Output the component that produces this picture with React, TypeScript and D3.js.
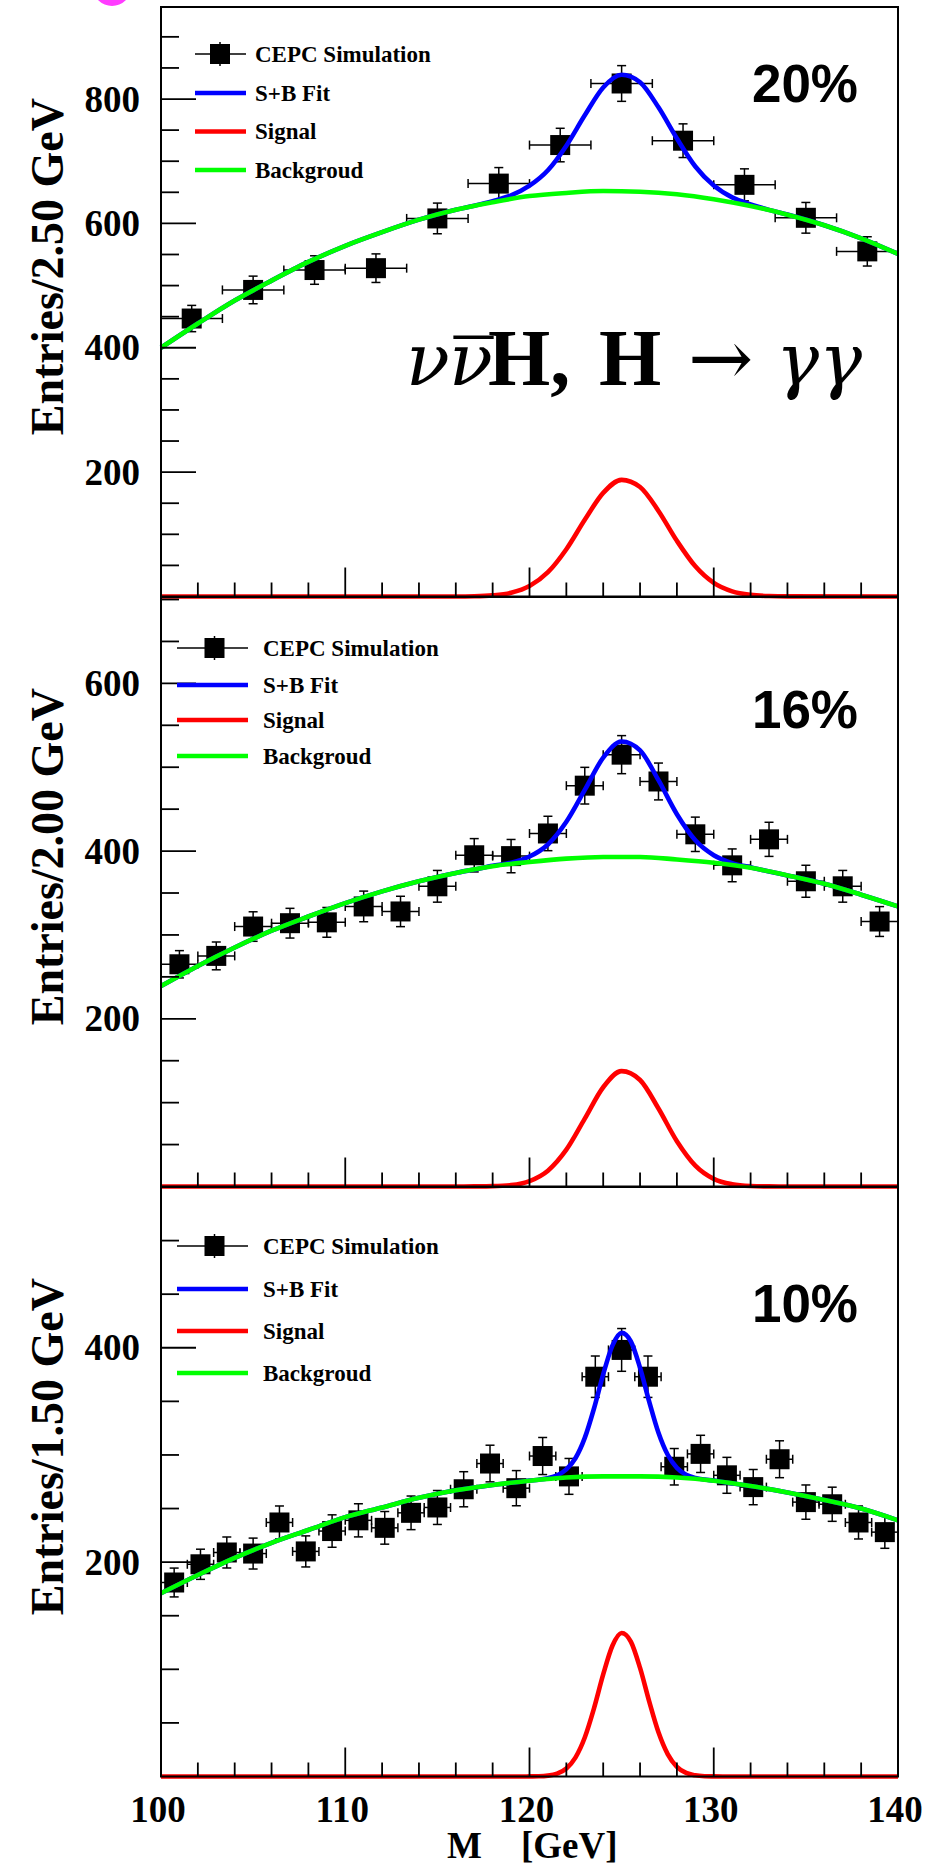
import React from "react";
import * as d3 from "d3";

const WIDTH = 952;
const HEIGHT = 1868;

// ---- shared mass axis ----
const massRange: [number, number] = [100, 140];
const massMajorTicks = [100, 110, 120, 130, 140];
const massMinorTicks = [102, 104, 106, 108, 112, 114, 116, 118, 122, 124, 126, 128, 132, 134, 136, 138];

// grid on which the background fits are tabulated
const bgMass = [100, 102, 104, 106, 108, 110, 112, 114, 116, 118, 120, 122, 124, 126, 128, 130, 132, 134, 136, 138, 140];

// ---- 20% sample ----
const counts20 = [447, 493, 525, 528, 608, 664, 726, 825, 733, 662, 609, 555];
const background20 = [400, 439, 476, 508, 538, 564, 586, 606, 622, 634, 644, 649, 652, 651, 647, 639, 628, 614, 597, 576, 551];
const signalMass20 = [116, 117, 118, 119, 120, 121, 122, 123, 124, 125, 126, 127, 128, 129, 130, 131, 132, 133, 134];
const signal20 = [0.1, 0.4, 1.8, 6.0, 16.7, 39.0, 76.0, 123.3, 166.6, 187.6, 176.0, 137.6, 89.5, 48.5, 21.9, 8.3, 2.6, 0.7, 0.2];
const yTicks20 = [200, 400, 600, 800];

// ---- 16% sample ----
const counts16 = [265, 275, 310, 314, 315, 334, 328, 358, 395, 394, 421, 478, 515, 483, 420, 383, 414, 364, 358, 316];
const background16 = [239, 263, 285, 305, 322, 338, 352, 364, 374, 382, 387, 391, 393, 393, 390, 386, 380, 371, 361, 348, 334];
const signalMass16 = [116, 117, 118, 119, 120, 121, 122, 123, 124, 125, 126, 127, 128, 129, 130, 131, 132, 133, 134];
const signal16 = [0, 0.1, 0.4, 1.7, 6.5, 18.9, 43.9, 80.9, 118.4, 137.6, 127.0, 93.0, 54.0, 24.9, 9.1, 2.7, 0.6, 0.1, 0];
const yTicks16 = [200, 400, 600];

// ---- 10% sample ----
const counts10 = [181, 198, 209, 208, 237, 210, 229, 239, 232, 246, 251, 268, 292, 269, 299, 280, 373, 398, 373, 289, 301, 281, 270, 296, 256, 254, 237, 228];
const background10 = [171, 188, 204, 218, 230, 242, 251, 260, 267, 272, 276, 279, 280, 280, 279, 276, 271, 265, 258, 250, 239];
const signalMass10 = [119, 119.5, 120, 120.5, 121, 121.5, 122, 122.5, 123, 123.5, 124, 124.5, 125, 125.5, 126, 126.5, 127, 127.5, 128, 128.5, 129, 129.5, 130, 130.5, 131];
const signal10 = [0, 0, 0.1, 0.2, 0.8, 2.7, 7.5, 17.9, 36.4, 63.6, 95.2, 122.0, 133.9, 125.9, 101.3, 69.8, 41.2, 20.9, 9.0, 3.3, 1.1, 0.3, 0.1, 0, 0];
const yTicks10 = [200, 400];

const legendLabels = ["CEPC Simulation", "S+B Fit", "Signal", "Backgroud"];
const curveColors = { sb: "#0000ff", signal: "#ff0000", background: "#00ff00" };

// ---- layout ----
const LEFT = 161;
const RIGHT = 898;
const SERIF = "'Liberation Serif', 'Times New Roman', serif";
const MATH = "'DejaVu Serif', 'Liberation Serif', serif";
const SANS = "'Liberation Sans', Arial, sans-serif";

type PanelSpec = {
  top: number;
  bottom: number;
  yMax: number;
  counts: number[];
  background: number[];
  signalMass: number[];
  signal: number[];
  yTicks: number[];
  yTitle: string;
  tag: string;
  tagBaseline: number;
  legendRows: number[];
  legendLine: [number, number];
  legendMarkerX: number;
  legendTextX: number;
  showMassLabels: boolean;
};

const panels: PanelSpec[] = [
  {
    top: 7, bottom: 596.5, yMax: 948,
    counts: counts20, background: background20, signalMass: signalMass20, signal: signal20,
    yTicks: yTicks20, yTitle: "Entries/2.50 GeV", tag: "20%", tagBaseline: 95,
    legendRows: [47, 86, 124.5, 163], legendLine: [195, 246], legendMarkerX: 220, legendTextX: 255,
    showMassLabels: false,
  },
  {
    top: 597, bottom: 1186.5, yMax: 703,
    counts: counts16, background: background16, signalMass: signalMass16, signal: signal16,
    yTicks: yTicks16, yTitle: "Entries/2.00 GeV", tag: "16%", tagBaseline: 131,
    legendRows: [51, 88, 123, 159], legendLine: [177, 248], legendMarkerX: 214.5, legendTextX: 263,
    showMassLabels: false,
  },
  {
    top: 1187, bottom: 1776.5, yMax: 550,
    counts: counts10, background: background10, signalMass: signalMass10, signal: signal10,
    yTicks: yTicks10, yTitle: "Entries/1.50 GeV", tag: "10%", tagBaseline: 135,
    legendRows: [59, 102, 144, 186], legendLine: [177, 248], legendMarkerX: 214.5, legendTextX: 263,
    showMassLabels: true,
  },
];

const MARKER = 20;
const CAP = 4.5;
const CURVE_W = 4.6;

function Panel({ p }: { p: PanelSpec }) {
  const x = d3.scaleLinear().domain(massRange).range([LEFT, RIGHT]);
  const y = d3.scaleLinear().domain([0, p.yMax]).range([p.bottom, p.top]);

  const line = d3
    .line<[number, number]>()
    .x((d) => x(d[0]))
    .y((d) => y(d[1]))
    .curve(d3.curveMonotoneX);

  const bgPts: [number, number][] = bgMass.map((m, i) => [m, p.background[i]]);
  const bgAt = d3.scaleLinear().domain(bgMass).range(p.background);
  const sLo = p.signalMass[0];
  const sHi = p.signalMass[p.signalMass.length - 1];

  const sigPts: [number, number][] = [
    [massRange[0], 0],
    ...p.signalMass.map((m, i) => [m, p.signal[i]] as [number, number]),
    [massRange[1], 0],
  ];

  // S+B = background + signal
  const sbPts: [number, number][] = [
    ...bgPts.filter((d) => d[0] < sLo),
    ...p.signalMass.map((m, i) => [m, bgAt(m) + p.signal[i]] as [number, number]),
    ...bgPts.filter((d) => d[0] > sHi),
  ];

  const binW = (massRange[1] - massRange[0]) / p.counts.length;
  const minorY = d3.range(50, p.yMax, 50).filter((v) => v % 200 !== 0);

  return (
    <g>
      {/* data points with sqrt(N) errors */}
      <g stroke="#000" strokeWidth={1.5} fill="none">
        {p.counts.map((n, i) => {
          const c = massRange[0] + binW * (i + 0.5);
          const e = Math.sqrt(n);
          const cx = x(c);
          const cy = y(n);
          const x0 = x(c - binW / 2);
          const x1 = x(c + binW / 2);
          const yt = y(n + e);
          const yb = y(n - e);
          return (
            <g key={i}>
              <line x1={x0} x2={x1} y1={cy} y2={cy} />
              <line x1={x0} x2={x0} y1={cy - CAP} y2={cy + CAP} />
              <line x1={x1} x2={x1} y1={cy - CAP} y2={cy + CAP} />
              <line x1={cx} x2={cx} y1={yt} y2={yb} />
              <line x1={cx - CAP} x2={cx + CAP} y1={yt} y2={yt} />
              <line x1={cx - CAP} x2={cx + CAP} y1={yb} y2={yb} />
              <rect x={cx - MARKER / 2} y={cy - MARKER / 2} width={MARKER} height={MARKER} fill="#000" stroke="none" />
            </g>
          );
        })}
      </g>

      {/* fit curves */}
      <path d={line(sbPts) ?? ""} fill="none" stroke={curveColors.sb} strokeWidth={CURVE_W} />
      <path d={line(sigPts) ?? ""} fill="none" stroke={curveColors.signal} strokeWidth={CURVE_W} />
      <path d={line(bgPts) ?? ""} fill="none" stroke={curveColors.background} strokeWidth={CURVE_W} />

      {/* frame */}
      <rect x={LEFT} y={p.top} width={RIGHT - LEFT} height={p.bottom - p.top} fill="none" stroke="#000" strokeWidth={2} />

      {/* y ticks */}
      <g stroke="#000" strokeWidth={1.8}>
        {p.yTicks.map((v) => (
          <line key={"M" + v} x1={LEFT} x2={LEFT + 35} y1={y(v)} y2={y(v)} />
        ))}
        {minorY.map((v) => (
          <line key={"m" + v} x1={LEFT} x2={LEFT + 18} y1={y(v)} y2={y(v)} />
        ))}
      </g>
      <g fontFamily={SERIF} fontWeight="bold" fontSize={37} textAnchor="end" fill="#000">
        {p.yTicks.map((v) => (
          <text key={v} x={140} y={y(v) + 12.5}>
            {v}
          </text>
        ))}
      </g>

      {/* x ticks */}
      <g stroke="#000" strokeWidth={1.8}>
        {massMajorTicks.map((v) => (
          <line key={"M" + v} x1={x(v)} x2={x(v)} y1={p.bottom} y2={p.bottom - 29} />
        ))}
        {massMinorTicks.map((v) => (
          <line key={"m" + v} x1={x(v)} x2={x(v)} y1={p.bottom} y2={p.bottom - 14} />
        ))}
      </g>
      {p.showMassLabels && (
        <g fontFamily={SERIF} fontWeight="bold" fontSize={37} textAnchor="middle" fill="#000">
          {massMajorTicks.map((v) => (
            <text key={v} x={x(v) - 3} y={p.bottom + 45.5}>
              {v}
            </text>
          ))}
        </g>
      )}

      {/* y title */}
      <text
        transform={`translate(63, ${p.top + 91}) rotate(-90)`}
        textAnchor="end"
        fontFamily={SERIF}
        fontWeight="bold"
        fontSize={46}
        fill="#000"
      >
        {p.yTitle}
      </text>

      {/* resolution tag */}
      <text x={858} y={p.top + p.tagBaseline} textAnchor="end" fontFamily={SANS} fontWeight="bold" fontSize={53} fill="#000">
        {p.tag}
      </text>

      {/* legend */}
      <g>
        {(() => {
          const r0 = p.top + p.legendRows[0];
          return (
            <g stroke="#000" strokeWidth={1.5}>
              <line x1={p.legendLine[0]} x2={p.legendLine[1]} y1={r0} y2={r0} />
              <line x1={p.legendMarkerX} x2={p.legendMarkerX} y1={r0 - 12} y2={r0 + 12} />
              <rect x={p.legendMarkerX - MARKER / 2} y={r0 - MARKER / 2} width={MARKER} height={MARKER} fill="#000" stroke="none" />
            </g>
          );
        })()}
        {[curveColors.sb, curveColors.signal, curveColors.background].map((c, k) => {
          const ry = p.top + p.legendRows[k + 1];
          return <line key={c} x1={p.legendLine[0]} x2={p.legendLine[1]} y1={ry} y2={ry} stroke={c} strokeWidth={4.5} />;
        })}
        {legendLabels.map((t, k) => (
          <text
            key={t}
            x={p.legendTextX}
            y={p.top + p.legendRows[k] + 7.8}
            fontFamily={SERIF}
            fontWeight="bold"
            fontSize={23}
            fill="#000"
          >
            {t}
          </text>
        ))}
      </g>
    </g>
  );
}

export default function App() {
  return (
    <svg
      width={WIDTH}
      height={HEIGHT}
      viewBox={`0 0 ${WIDTH} ${HEIGHT}`}
      style={{ position: "absolute", left: 0, top: 0, display: "block", background: "#fff" }}
    >
      <rect x={0} y={0} width={WIDTH} height={HEIGHT} fill="#fff" />
      <circle cx={112} cy={-13} r={19} fill="#ff3cff" />
      {panels.map((p, i) => (
        <Panel key={i} p={p} />
      ))}

      {/* process label: ν ν̄ H, H → γγ */}
      <text y={385} fill="#000">
        <tspan x={406} fontFamily={MATH} fontStyle="italic" fontSize={72}>ν</tspan>
        <tspan x={449} fontFamily={MATH} fontStyle="italic" fontSize={72}>ν</tspan>
        <tspan x={454} dy={10} fontFamily={SERIF} fontSize={78}>¯</tspan>
        <tspan x={488} dy={-10} fontFamily={SERIF} fontWeight="bold" fontSize={80}>H,</tspan>
        <tspan x={599} fontFamily={SERIF} fontWeight="bold" fontSize={80}>H</tspan>
        <tspan x={688} fontFamily={MATH} fontSize={78}>→</tspan>
        <tspan x={776} fontFamily={MATH} fontStyle="italic" fontSize={72}>γγ</tspan>
      </text>

      {/* mass axis title */}
      <text y={1858} fontFamily={SERIF} fontWeight="bold" fontSize={37} fill="#000">
        <tspan x={447}>M</tspan>
        <tspan x={521}>[GeV]</tspan>
      </text>
    </svg>
  );
}
